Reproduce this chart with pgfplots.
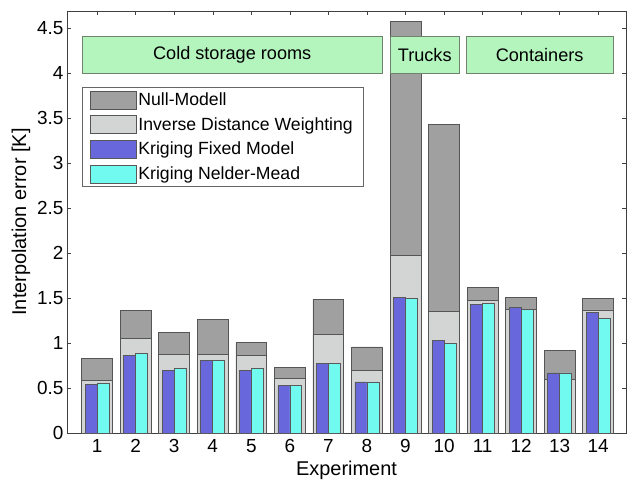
\documentclass[border=0pt]{standalone}
\usepackage{fontspec}
\setmainfont{Liberation Sans}
\usepackage{pgfplots}
\pgfplotsset{compat=1.18}
\definecolor{nullc}{RGB}{160,160,160}
\definecolor{nulle}{RGB}{85,85,85}
\definecolor{idwc}{RGB}{211,213,213}
\definecolor{kfc}{RGB}{104,104,220}
\definecolor{knc}{RGB}{112,250,240}
\definecolor{boxg}{RGB}{180,245,190}
\definecolor{boxe}{RGB}{110,130,110}
\begin{document}
\begin{tikzpicture}
\begin{axis}[
  scale only axis, width=559bp, height=422bp,
  xmin=0.22, xmax=14.72, ymin=0, ymax=4.69,
  xtick={1,2,3,4,5,6,7,8,9,10,11,12,13,14},
  ytick={0,0.5,1,1.5,2,2.5,3,3.5,4,4.5},
  yticklabels={0,0.5,1,1.5,2,2.5,3,3.5,4,4.5},
  tick align=inside, major tick length=4bp,
  /pgf/number format/assume math mode=true,
  tick label style={font=\fontsize{19}{22}\selectfont},
  xticklabel style={yshift=-3bp},
  label style={font=\fontsize{20}{24}\selectfont},
  xlabel={Experiment}, ylabel={Interpolation error [K]},
  xlabel style={yshift=-1bp},
  axis line style={draw=black!75},
  every tick/.style={draw=black!75},
  legend cell align=left,
  legend style={at={(0.026,0.819)}, anchor=north west, draw=black!60, fill=white,
    font=\fontsize{17.7}{21}\selectfont, inner xsep=8bp, inner ysep=3bp, row sep=6bp},
  legend image code/.code={\draw[#1] (0bp,-9bp) rectangle (46bp,9bp);},
]
\addplot[ybar, bar width=0.8, bar shift=0, fill=nullc, draw=nulle, line width=0.7bp] coordinates {
(1,0.826) (2,1.359) (3,1.115) (4,1.263) (5,1.004) (6,0.733) (7,1.489)
(8,0.956) (9,4.573) (10,3.426) (11,1.622) (12,1.511) (13,0.915) (14,1.500)};
\addlegendentry{Null-Modell}
\addplot[ybar, bar width=0.8, bar shift=0, fill=idwc, draw=nulle, line width=0.7bp] coordinates {
(1,0.585) (2,1.048) (3,0.874) (4,0.874) (5,0.859) (6,0.604) (7,1.100)
(8,0.696) (9,1.978) (10,1.352) (11,1.474) (12,1.378) (13,0.600) (14,1.367)};
\addlegendentry{Inverse Distance Weighting}
\addplot[ybar, bar width=0.31, bar shift=-0.155, fill=kfc, draw=black!65, line width=0.6bp] coordinates {
(1,0.537) (2,0.859) (3,0.700) (4,0.811) (5,0.700) (6,0.526) (7,0.774)
(8,0.567) (9,1.511) (10,1.030) (11,1.433) (12,1.396) (13,0.667) (14,1.340)};
\addlegendentry{Kriging Fixed Model}
\addplot[ybar, bar width=0.31, bar shift=0.155, fill=knc, draw=black!65, line width=0.6bp] coordinates {
(1,0.556) (2,0.889) (3,0.722) (4,0.811) (5,0.722) (6,0.526) (7,0.774)
(8,0.567) (9,1.500) (10,1.000) (11,1.437) (12,1.370) (13,0.667) (14,1.273)};
\addlegendentry{Kriging Nelder-Mead}
\draw[fill=boxg, draw=boxe, line width=0.7bp] (axis cs:0.61,4.0) rectangle (axis cs:8.40,4.41)
  node[midway, font=\fontsize{18.2}{21}\selectfont] {Cold storage rooms};
\draw[fill=boxg, draw=boxe, line width=0.7bp] (axis cs:8.60,4.0) rectangle (axis cs:10.40,4.41)
  node[midway, font=\fontsize{18.2}{21}\selectfont] {Trucks};
\draw[fill=boxg, draw=boxe, line width=0.7bp] (axis cs:10.57,4.0) rectangle (axis cs:14.39,4.41)
  node[midway, font=\fontsize{18.2}{21}\selectfont] {Containers};
\end{axis}
\pgfresetboundingbox
\path[use as bounding box] ([xshift=-67bp,yshift=-47bp]current axis.south west) rectangle ([xshift=1bp,yshift=11bp]current axis.north east);
\end{tikzpicture}
\end{document}
